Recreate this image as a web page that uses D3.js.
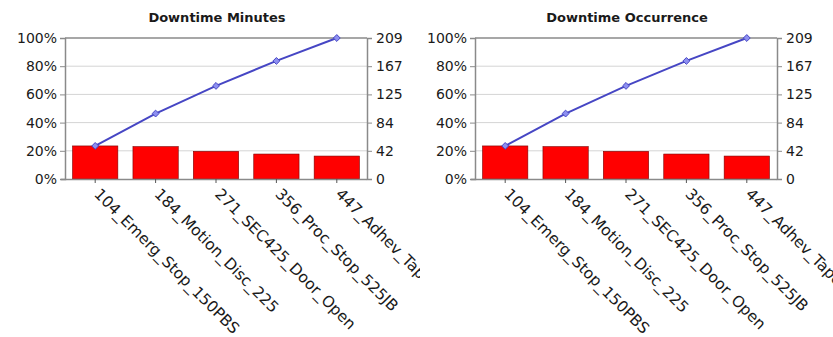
<!DOCTYPE html>
<html>
<head>
<meta charset="utf-8">
<script src="https://cdn.jsdelivr.net/npm/d3@7"></script>
<style>
  html, body { margin: 0; padding: 0; background: #fff; }
  svg { display: block; }
  text { font-family: "DejaVu Sans", Verdana, sans-serif; fill: #1a1a1a; }
</style>
</head>
<body>
<svg id="chart" width="833" height="337"></svg>
<script>
// Downtime reasons, shared by both Pareto panels
const categories = [
  "104_Emerg_Stop_150PBS",
  "184_Motion_Disc_225",
  "271_SEC425_Door_Open",
  "356_Proc_Stop_525JB",
  "447_Adhev_Tape_Splice"
];
const minutesValues = [49, 48, 41, 37, 34];
const occurrenceValues = [49, 48, 41, 37, 34];
const percentTicks = [0, 0.2, 0.4, 0.6, 0.8, 1];
const countTickLabels = ["0", "42", "84", "125", "167", "209"];
const panelTitles = ["Downtime Minutes", "Downtime Occurrence"];

const svg = d3.select("#chart");

// each panel is clipped to its own half of the page
const panels = [
  { title: panelTitles[0], values: minutesValues, left: 65, clipX: 0, clipW: 420 },
  { title: panelTitles[1], values: occurrenceValues, left: 475, clipX: 420, clipW: 413 }
];

const plotW = 302, plotTop = 38, plotBottom = 179;

panels.forEach((p, i) => {
  const total = d3.sum(p.values);
  let run = 0;
  const cumulative = p.values.map(v => (run += v) / total);

  const clipId = "clip" + i;
  svg.append("clipPath").attr("id", clipId)
    .append("rect").attr("x", p.clipX).attr("y", 0)
    .attr("width", p.clipW).attr("height", 337);

  const g = svg.append("g").attr("clip-path", `url(#${clipId})`);

  const x = d3.scaleBand().domain(categories)
    .range([p.left, p.left + plotW]).paddingInner(0.25).paddingOuter(0.125);
  const yPct = d3.scaleLinear().domain([0, 1]).range([plotBottom, plotTop]);
  const yCount = d3.scaleLinear().domain([0, total]).range([plotBottom, plotTop]);

  // title
  g.append("text")
    .attr("x", p.left + plotW / 2 + 1).attr("y", 22)
    .attr("text-anchor", "middle")
    .style("font-size", "13px").style("font-weight", "bold")
    .text(p.title);

  // horizontal gridlines
  g.append("g").selectAll("line").data(percentTicks.slice(1)).join("line")
    .attr("x1", p.left).attr("x2", p.left + plotW)
    .attr("y1", d => yPct(d)).attr("y2", d => yPct(d))
    .attr("stroke", d => d === 1 ? "#8a8a8a" : "#d4d4d4")
    .attr("stroke-width", d => d === 1 ? 1.5 : 1);

  // bars
  g.append("g").selectAll("rect").data(p.values).join("rect")
    .attr("x", (d, j) => x(categories[j]))
    .attr("width", x.bandwidth())
    .attr("y", d => yCount(d))
    .attr("height", d => plotBottom - yCount(d))
    .attr("fill", "#ff0000")
    .attr("stroke", "#7a0000")
    .attr("stroke-width", 0.6);

  // left axis (percent)
  const leftAxis = d3.axisLeft(yPct).tickValues(percentTicks)
    .tickFormat(d3.format(".0%")).tickSize(5).tickPadding(3);
  const la = g.append("g").attr("transform", `translate(${p.left},0)`).call(leftAxis);
  la.select(".domain").attr("stroke", "#8a8a8a").attr("stroke-width", 1.5);
  la.selectAll(".tick line").attr("stroke", "#8a8a8a");
  la.selectAll("text").style("font-size", "14px").attr("fill", "#1a1a1a");

  // right axis (count)
  const rightAxis = d3.axisRight(yCount)
    .tickValues(countTickLabels.map((v, k) => total * k / 5))
    .tickFormat((d, k) => countTickLabels[k]).tickSize(5).tickPadding(4);
  const ra = g.append("g").attr("transform", `translate(${p.left + plotW},0)`).call(rightAxis);
  ra.select(".domain").attr("stroke", "#8a8a8a").attr("stroke-width", 1.5);
  ra.selectAll(".tick line").attr("stroke", "#8a8a8a");
  ra.selectAll("text").style("font-size", "14px").attr("fill", "#1a1a1a");

  // bottom axis with rotated category labels
  const bottomAxis = d3.axisBottom(x).tickSize(4).tickSizeOuter(0);
  const ba = g.append("g").attr("transform", `translate(0,${plotBottom})`).call(bottomAxis);
  ba.select(".domain").attr("stroke", "#8a8a8a").attr("stroke-width", 1.5)
    .attr("d", `M${p.left - 4},0.5H${p.left + plotW}`);
  ba.selectAll(".tick line").attr("stroke", "#555");
  ba.selectAll("text")
    .style("font-size", "15.5px")
    .attr("fill", "#1a1a1a")
    .attr("text-anchor", "start")
    .attr("dy", 0)
    .attr("y", 0)
    .attr("transform", "translate(-2,16) rotate(45)");

  // cumulative percentage line
  const line = d3.line()
    .x((d, j) => x(categories[j]) + x.bandwidth() / 2)
    .y(d => yPct(d));
  g.append("path").datum(cumulative)
    .attr("d", line)
    .attr("fill", "none")
    .attr("stroke", "#4646c4")
    .attr("stroke-width", 2);

  g.append("g").selectAll("path").data(cumulative).join("path")
    .attr("transform", (d, j) => `translate(${x(categories[j]) + x.bandwidth() / 2},${yPct(d)})`)
    .attr("d", d3.symbol(d3.symbolDiamond2, 30))
    .attr("fill", "#8d8ff0")
    .attr("stroke", "#4646c4")
    .attr("stroke-width", 1);
});
</script>
</body>
</html>
